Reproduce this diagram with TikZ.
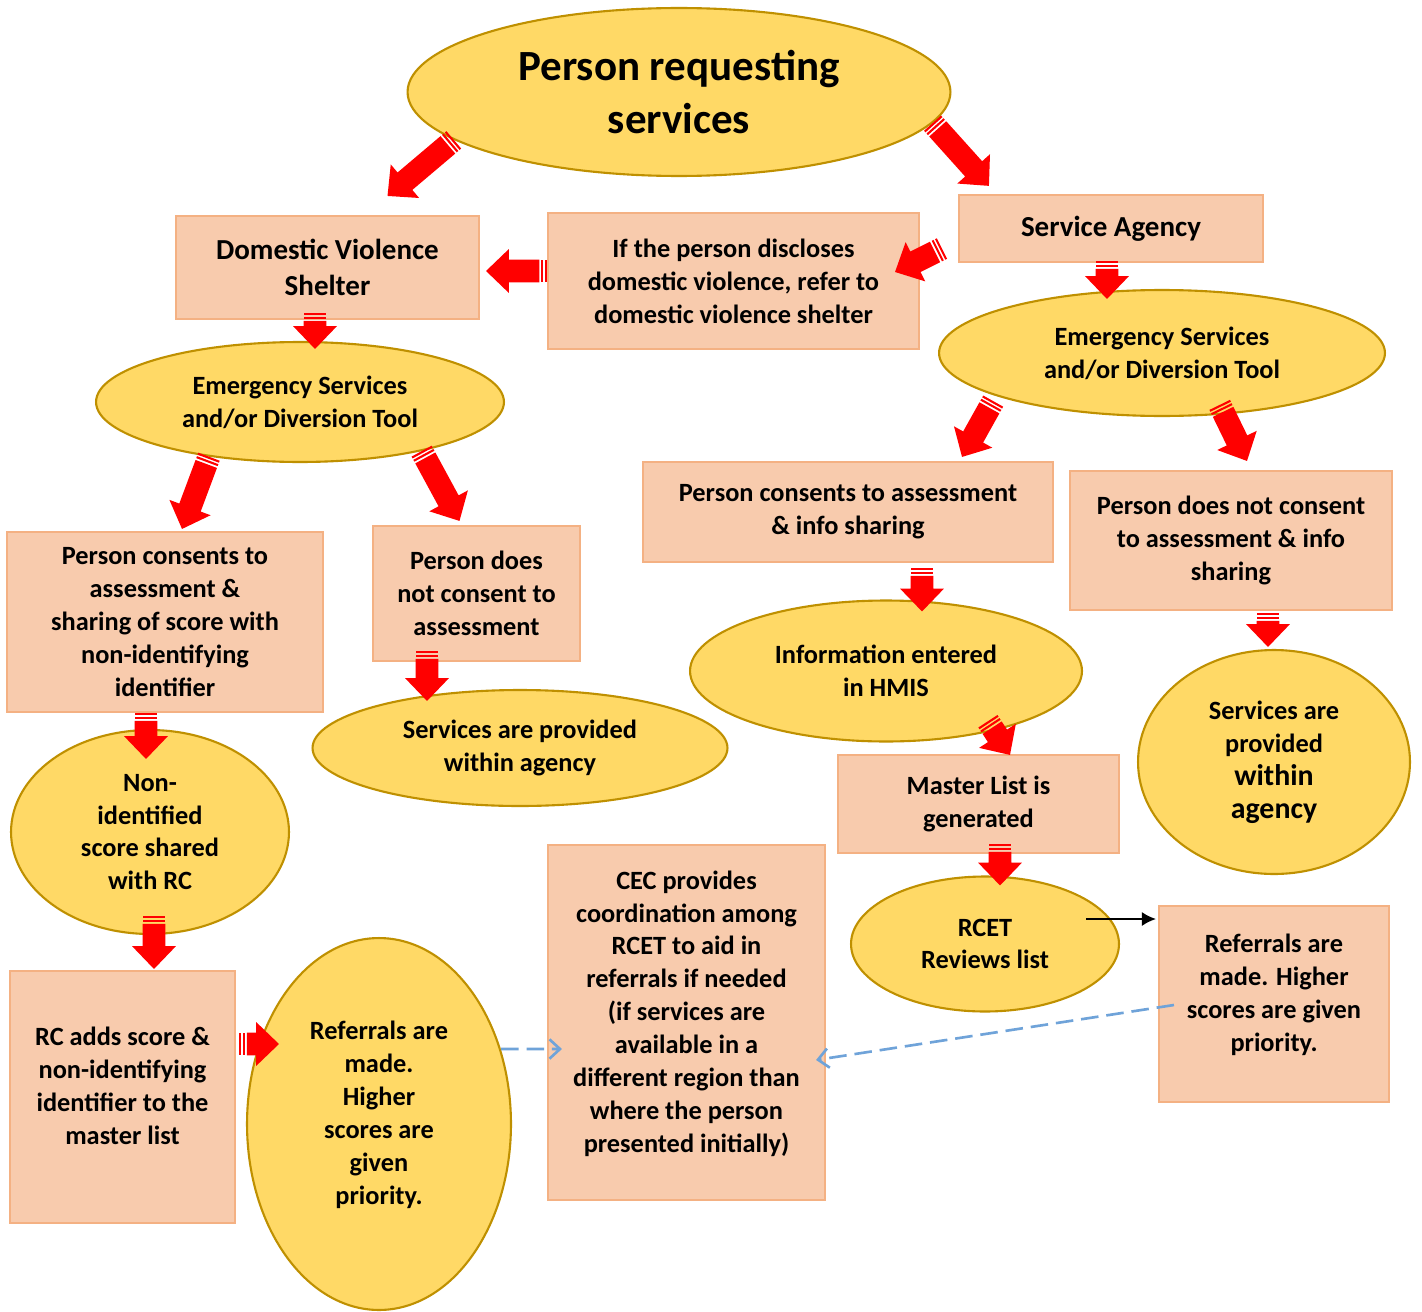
\documentclass[tikz,border=0pt]{standalone}
\usepackage{fontspec}
\setmainfont{Carlito}
\usepackage{xcolor}
\usetikzlibrary{shapes,arrows,arrows.meta,calc}
\definecolor{ovalfill}{HTML}{FFD966}
\definecolor{ovalline}{HTML}{BF9000}
\definecolor{boxfill}{HTML}{F8CBAD}
\definecolor{boxline}{HTML}{F4B183}
\definecolor{dashblue}{HTML}{6FA3D9}
\newcommand\nodefont{\fontsize{15}{18.7}\selectfont\bfseries}
\tikzstyle{oval} = [ellipse,draw=ovalline,fill=ovalfill,line width=1.2pt,inner sep=0pt,align=center,font=\nodefont]
\tikzstyle{panel} = [rectangle,draw=boxline,fill=boxfill,line width=1.2pt,inner sep=0pt,align=center,font=\nodefont]
\tikzstyle{link} = [draw,-{Latex[length=8pt,width=8pt]},line width=1.1pt]
\tikzstyle{dashlink} = [draw=dashblue,-{Straight Barb[length=6pt,width=11pt]},line width=1.5pt,dash pattern=on 10pt off 4.5pt]
\newcommand\redarrow[2]{%
  \path let \p1=#1, \p2=#2 in \pgfextra{%
    \pgfmathsetmacro\ra{atan2(\y2-\y1,\x2-\x1)}%
    \pgfmathsetmacro\rl{veclen(\x2-\x1,\y2-\y1)}%
    \xdef\arrang{\ra}\xdef\arrlen{\rl}};
  \begin{scope}[shift={#1},rotate=\arrang]
    \fill[red] (0,-6.5pt) rectangle (1.2pt,6.5pt);
    \fill[red] (2.1pt,-6.5pt) rectangle (3.3pt,6.5pt);
    \fill[red] (4.4pt,-6.5pt) -- (\arrlen pt-13pt,-6.5pt) -- (\arrlen pt-13pt,-12.5pt)
      -- (\arrlen pt,0pt) -- (\arrlen pt-13pt,12.5pt) -- (\arrlen pt-13pt,6.5pt) -- (4.4pt,6.5pt) -- cycle;
  \end{scope}}

\begin{document}
\begin{tikzpicture}[x=0.02cm,y=-0.02cm]
    \useasboundingbox[fill=white] (0,0) rectangle (1422,1311);
    \node[oval,minimum width=10.86cm,minimum height=3.36cm,font=\fontsize{24.5}{30}\selectfont\bfseries] (top) at (679,92) {Person requesting\\services};
    \node[panel,minimum width=6.06cm,minimum height=2.06cm,font=\fontsize{16.5}{20.4}\selectfont\bfseries] (dvs) at (327.5,267.5) {Domestic Violence\\Shelter};
    \node[panel,minimum width=7.42cm,minimum height=2.72cm] (ifbox) at (733.5,281) {If the person discloses\\domestic violence, refer to\\domestic violence shelter};
    \node[panel,minimum width=6.08cm,minimum height=1.34cm,font=\fontsize{16.5}{20.4}\selectfont\bfseries] (sa) at (1111,228.5) {Service Agency};
    \node[oval,minimum width=8.16cm,minimum height=2.4cm] (esl) at (300,402) {Emergency Services\\and/or Diversion Tool};
    \node[oval,minimum width=8.92cm,minimum height=2.52cm] (esr) at (1162,353) {Emergency Services\\and/or Diversion Tool};
    \node[panel,minimum width=6.32cm,minimum height=3.6cm] (pcl) at (165,622) {Person consents to\\assessment \&\\sharing of score with\\non-identifying\\identifier};
    \node[panel,minimum width=4.14cm,minimum height=2.7cm] (pnc) at (476.5,593.5) {Person does\\not consent to\\assessment};
    \node[panel,minimum width=8.2cm,minimum height=2.0cm] (pcr) at (848,512) {Person consents to assessment\\\& info sharing};
    \node[panel,minimum width=6.44cm,minimum height=2.78cm] (pnr) at (1231,540.5) {Person does not consent\\to assessment \& info\\sharing};
    \node[oval,minimum width=7.84cm,minimum height=2.82cm] (hmis) at (886,671) {Information entered\\in HMIS};
    \node[oval,minimum width=8.3cm,minimum height=2.32cm] (spm) at (520,748) {Services are provided\\within agency};
    \node[oval,minimum width=5.44cm,minimum height=4.48cm] (spr) at (1274,762) {Services are\\provided\\{\fontsize{17}{20}\selectfont within}\\{\fontsize{17}{20}\selectfont agency}};
    \node[oval,minimum width=5.56cm,minimum height=4.08cm] (nis) at (150,832) {Non-\\identified\\score shared\\with RC};
    \node[panel,minimum width=5.62cm,minimum height=1.96cm] (mlg) at (978.5,804) {Master List is\\generated};
    \node[oval,minimum width=5.36cm,minimum height=2.7cm] (rcet) at (985,944) {RCET\\Reviews list};
    \node[panel,minimum width=4.6cm,minimum height=3.92cm] (refr) at (1274,1004) {Referrals are\\made. Higher\\scores are given\\priority.\\[-6pt]\mbox{}};
    \node[panel,minimum width=5.54cm,minimum height=7.1cm] (cec) at (686.5,1022.5) {CEC provides\\coordination among\\RCET to aid in\\referrals if needed\\(if services are\\available in a\\different region than\\where the person\\presented initially)\\[-6pt]\mbox{}};
    \node[panel,minimum width=4.5cm,minimum height=5.04cm] (rca) at (122.5,1097) {RC adds score \&\\non-identifying\\identifier to the\\master list\\[-6pt]\mbox{}};
    \node[oval,minimum width=5.28cm,minimum height=7.44cm] (refl) at (379,1124) {Referrals are\\made.\\Higher\\scores are\\given\\priority.\\[-6pt]\mbox{}};
    \redarrow{(top.192)}{([shift={(60,-19)}]dvs.north)}
    \redarrow{(top.353)}{([shift={(31,-8)}]sa.north west)}
    \redarrow{([shift={(0,-10)}]ifbox.west)}{([shift={(6,3.5)}]dvs.east)}
    \redarrow{([shift={(-16,20)}]sa.west)}{([shift={(-25,-9)}]ifbox.east)}
    \redarrow{([shift={(-12.5,-7)}]dvs.south)}{([shift={(15,8)}]esl.north)}
    \redarrow{([shift={(-4,-2)}]sa.south)}{([shift={(-55,10)}]esr.north)}
    \redarrow{(esl.211.5)}{([shift={(17,-2)}]pcl.north)}
    \redarrow{(esl.338)}{([shift={(-17,-4)}]pnc.north)}
    \redarrow{([shift={(0,6)}]esr.194)}{([shift={(114,-4)}]pcr.north)}
    \redarrow{([shift={(0,-10)}]esr.313)}{([shift={(16,-9)}]pnr.north)}
    \redarrow{([shift={(74,5)}]pcr.south)}{([shift={(36,12)}]hmis.north)}
    \redarrow{([shift={(37,2)}]pnr.south)}{([shift={(-6,-2)}]spr.north)}
    \redarrow{([shift={(-49.5,-11)}]pnc.south)}{([shift={(-93,12)}]spm.north)}
    \redarrow{([shift={(-19,0)}]pcl.south)}{([shift={(-4,30)}]nis.north)}
    \redarrow{([shift={(0,-11)}]hmis.329.5)}{([shift={(31.5,1)}]mlg.north)}
    \redarrow{([shift={(21.5,-10)}]mlg.south)}{([shift={(15,10)}]rcet.north)}
    \redarrow{([shift={(4,-19)}]nis.south)}{([shift={(31.5,-1)}]rca.north)}
    \redarrow{([shift={(3,-53)}]rca.east)}{([shift={(33,-80)}]refl.west)}
    \path[link] ([shift={(-34,-25)}]rcet.east) -- ([shift={(-2,-85)}]refr.west);
    \path[dashlink] ([shift={(-11,-75)}]refl.east) -- ([shift={(15,26.5)}]cec.west);
    \path[dashlink] ([shift={(16,1)}]refr.west) -- ([shift={(-10,37.5)}]cec.east);
\end{tikzpicture}
\end{document}
